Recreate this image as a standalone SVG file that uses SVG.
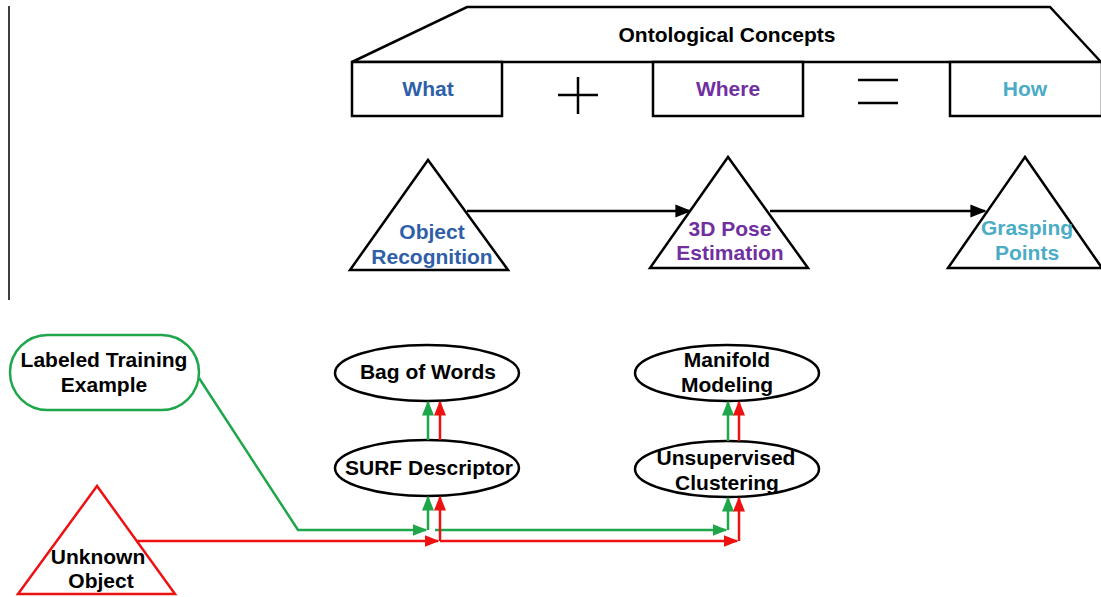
<svg xmlns="http://www.w3.org/2000/svg" width="1101" height="597" viewBox="0 0 1101 597">
<defs>
<style>
.k{fill:#fff;stroke:#000;stroke-width:2.5}
.t{font-family:"Liberation Sans",Arial,sans-serif;font-weight:bold;font-size:21px;text-anchor:middle}
.blk{fill:#000}
.c{fill:none;stroke-width:2.5}
.g{stroke:#1fa64a}
.r{stroke:#ee1111}
.bl{stroke:#000}
</style>
<marker id="ab" viewBox="0 0 10 10" refX="9" refY="5" markerWidth="6.5" markerHeight="6.5" orient="auto" markerUnits="strokeWidth" preserveAspectRatio="none"><path d="M0,1L10,5L0,9z" fill="#000"/></marker>
<marker id="ag" viewBox="0 0 10 10" refX="9" refY="5" markerWidth="6" markerHeight="6" orient="auto" markerUnits="strokeWidth" preserveAspectRatio="none"><path d="M0,1L10,5L0,9z" fill="#1fa64a"/></marker>
<marker id="ar" viewBox="0 0 10 10" refX="9" refY="5" markerWidth="6" markerHeight="6" orient="auto" markerUnits="strokeWidth" preserveAspectRatio="none"><path d="M0,1L10,5L0,9z" fill="#ee1111"/></marker>
</defs>
<rect width="1101" height="597" fill="#fff"/>
<line x1="9" y1="6" x2="9" y2="300" stroke="#000" stroke-width="1.5"/>

<g id="ontological">
<polygon class="k" points="352,62 467,7 1050,7 1101,62"/>
<text class="t blk" x="727" y="42">Ontological Concepts</text>
</g>
<g id="what"><rect class="k" x="352" y="62" width="150" height="54"/><text class="t" x="428" y="96" fill="#2f5fa8">What</text></g>
<g id="plus"><path d="M558,95H598M578,77V114" stroke="#000" stroke-width="2.5" fill="none"/></g>
<g id="where"><rect class="k" x="653" y="62" width="150" height="54"/><text class="t" x="728" y="96" fill="#7030a0">Where</text></g>
<g id="equals"><path d="M858,80H898M858,103H898" stroke="#000" stroke-width="2.5" fill="none"/></g>
<g id="how"><rect class="k" x="950" y="62" width="152" height="54"/><text class="t" x="1025" y="96" fill="#4bacc6">How</text></g>

<g id="object-recognition"><polygon class="k" points="428,160 350,270 508,270"/><text class="t" x="432" y="239" fill="#2f5fa8">Object</text><text class="t" x="432" y="264" fill="#2f5fa8">Recognition</text></g>
<g id="pose"><polygon class="k" points="728,157 650,268 808,268"/><text class="t" x="730" y="236" fill="#7030a0">3D Pose</text><text class="t" x="730" y="260" fill="#7030a0">Estimation</text></g>
<g id="grasping"><polygon class="k" points="1025,157 948,268 1102,268"/><text class="t" x="1027" y="235" fill="#4bacc6">Grasping</text><text class="t" x="1027" y="260" fill="#4bacc6">Points</text></g>

<g id="labeled"><rect x="10" y="335" width="189" height="75" rx="37.5" fill="#fff" stroke="#1fa64a" stroke-width="2.5"/><text class="t blk" x="104" y="367">Labeled Training</text><text class="t blk" x="104" y="392">Example</text></g>
<g id="unknown"><polygon points="97,486 18,594 175,594" fill="#fff" stroke="#ee1111" stroke-width="2.5"/><text class="t blk" x="98" y="564">Unknown</text><text class="t blk" x="101" y="588">Object</text></g>

<g id="bag"><ellipse class="k" cx="427" cy="373" rx="92" ry="28"/><text class="t blk" x="428" y="379">Bag of Words</text></g>
<g id="surf"><ellipse class="k" cx="427" cy="468" rx="92" ry="28"/><text class="t blk" x="429" y="475">SURF Descriptor</text></g>
<g id="manifold"><ellipse class="k" cx="727" cy="373" rx="92" ry="28"/><text class="t blk" x="727" y="367">Manifold</text><text class="t blk" x="727" y="392">Modeling</text></g>
<g id="clustering"><ellipse class="k" cx="727" cy="469" rx="92" ry="28"/><text class="t blk" x="726" y="465">Unsupervised</text><text class="t blk" x="727" y="490">Clustering</text></g>

<g id="connectors">
<path class="c bl" d="M467,211H690" marker-end="url(#ab)"/>
<path class="c bl" d="M770,211H985" marker-end="url(#ab)"/>
<path class="c g" d="M199,378L298,530H426" marker-end="url(#ag)"/>
<path class="c g" d="M428,530V497" marker-end="url(#ag)"/>
<path class="c g" d="M435,530H726" marker-end="url(#ag)"/>
<path class="c g" d="M728,530V498" marker-end="url(#ag)"/>
<path class="c r" d="M137,541H438" marker-end="url(#ar)"/>
<path class="c r" d="M440,541V497" marker-end="url(#ar)"/>
<path class="c r" d="M440,541H737" marker-end="url(#ar)"/>
<path class="c r" d="M739,541V498" marker-end="url(#ar)"/>
<path class="c g" d="M428,440V402" marker-end="url(#ag)"/>
<path class="c r" d="M440,440V402" marker-end="url(#ar)"/>
<path class="c g" d="M728,441V402" marker-end="url(#ag)"/>
<path class="c r" d="M739,441V402" marker-end="url(#ar)"/>
</g>
</svg>
